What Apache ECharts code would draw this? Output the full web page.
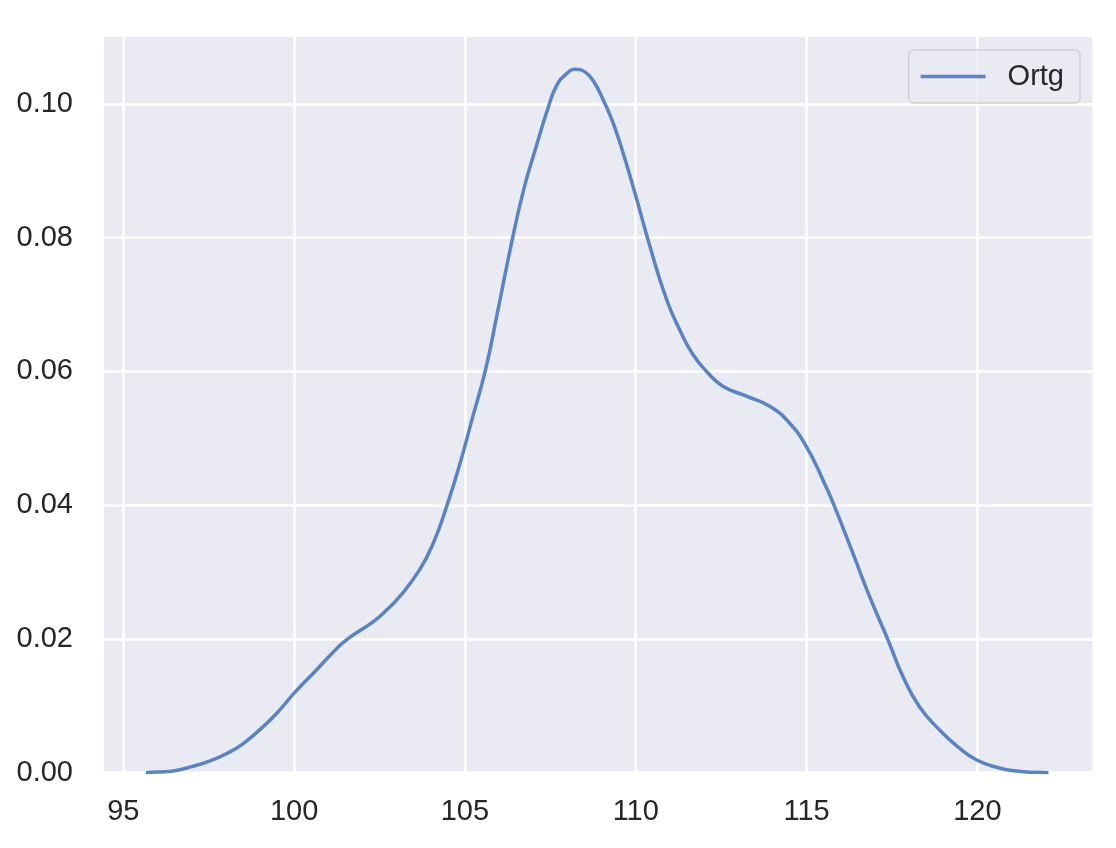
<!DOCTYPE html>
<html>
<head>
<meta charset="utf-8">
<script src="https://cdn.jsdelivr.net/npm/echarts@6/dist/echarts.min.js"></script>
<style>
  html, body { margin: 0; padding: 0; background: #ffffff; }
  #chart { width: 1116px; height: 848px; }
</style>
</head>
<body>
<div id="chart"></div>
<script>
// KDE curve of "Ortg"
const seriesName = 'Ortg';
const xValues = [95.66, 96.0, 96.5, 97.0, 97.5, 98.0, 98.52, 99.2, 99.6, 100.0,
  100.66, 101.1, 101.54, 102.32, 102.7, 103.1, 103.68, 104.08, 104.47, 104.86, 105.19, 105.6,
  105.94, 106.38, 106.72, 107.06, 107.44, 107.68, 107.97, 108.24, 108.51, 108.75, 109.04,
  109.29, 109.53, 109.97, 110.41, 110.9, 111.29, 111.68, 112.11, 112.55, 113.24, 113.92,
  114.5, 114.99, 115.47, 115.82, 116.35, 116.84, 117.38, 117.82, 118.3, 118.89, 119.42, 119.98,
  120.64, 121.2, 121.7, 122.08];
const densityValues = [0, 0.0001, 0.0003, 0.0009, 0.0017, 0.0028, 0.0044, 0.0074, 0.0095, 0.0119,
  0.0154, 0.0178, 0.0199, 0.0226, 0.0243, 0.0264, 0.0304, 0.0344, 0.0399, 0.0463, 0.0525, 0.0602,
  0.0685, 0.0796, 0.0872, 0.0932, 0.0995, 0.1027, 0.1045, 0.1052, 0.1048, 0.1035, 0.1007,
  0.0978, 0.0943, 0.0868, 0.0788, 0.0708, 0.0662, 0.0625, 0.0598, 0.0578, 0.0563, 0.0548,
  0.0523, 0.0488, 0.0439, 0.0398, 0.0329, 0.0264, 0.0199, 0.0144, 0.0099, 0.0064, 0.0039, 0.0019,
  0.0007, 0.0002, 0.00005, 0];
const xTicks = [95, 100, 105, 110, 115, 120];
const yTicks = [0, 0.02, 0.04, 0.06, 0.08, 0.10];

const FONT = "'Liberation Sans', Arial, sans-serif";
const TEXT = '#262626';
const LINE = '#5a84c1';
const chart = echarts.init(document.getElementById('chart'), null, { renderer: 'canvas' });

chart.setOption({
  backgroundColor: '#ffffff',
  animation: false,
  grid: {
    left: 104, right: 23.5, top: 36.7, bottom: 75.3,
    show: true, backgroundColor: '#eaeaf2', borderWidth: 0
  },
  legend: {
    data: [{ name: seriesName, icon: 'rect' }],
    right: 36, top: 50,
    padding: [12, 16, 12, 12],
    itemWidth: 65, itemHeight: 3.5,
    itemStyle: { color: LINE },
    backgroundColor: 'rgba(234,234,242,0.8)',
    borderColor: '#d0d0d6', borderWidth: 1.5, borderRadius: 5,
    textStyle: { fontFamily: FONT, fontSize: 29, color: TEXT, padding: [0, 0, 0, 17] }
  },
  xAxis: {
    type: 'value', min: 94.435, max: 123.37,
    axisLine: { show: false },
    axisTick: { show: false, customValues: xTicks },
    axisLabel: { customValues: xTicks, fontFamily: FONT, fontSize: 29, color: TEXT, margin: 25 },
    splitLine: { show: true, lineStyle: { color: '#ffffff', width: 2.5 } }
  },
  yAxis: {
    type: 'value', min: 0, max: 0.11006,
    axisLine: { show: false },
    axisTick: { show: false, customValues: yTicks },
    axisLabel: { customValues: yTicks, fontFamily: FONT, fontSize: 29, color: TEXT, margin: 31,
      formatter: v => v.toFixed(2) },
    splitLine: { show: true, lineStyle: { color: '#ffffff', width: 2.5 } }
  },
  series: [{
    name: seriesName,
    type: 'line',
    data: xValues.map((x, i) => [x, densityValues[i]]),
    smooth: 0.5,
    symbol: 'none',
    lineStyle: { color: LINE, width: 3.5 },
    itemStyle: { color: LINE }
  }]
});
</script>
</body>
</html>
